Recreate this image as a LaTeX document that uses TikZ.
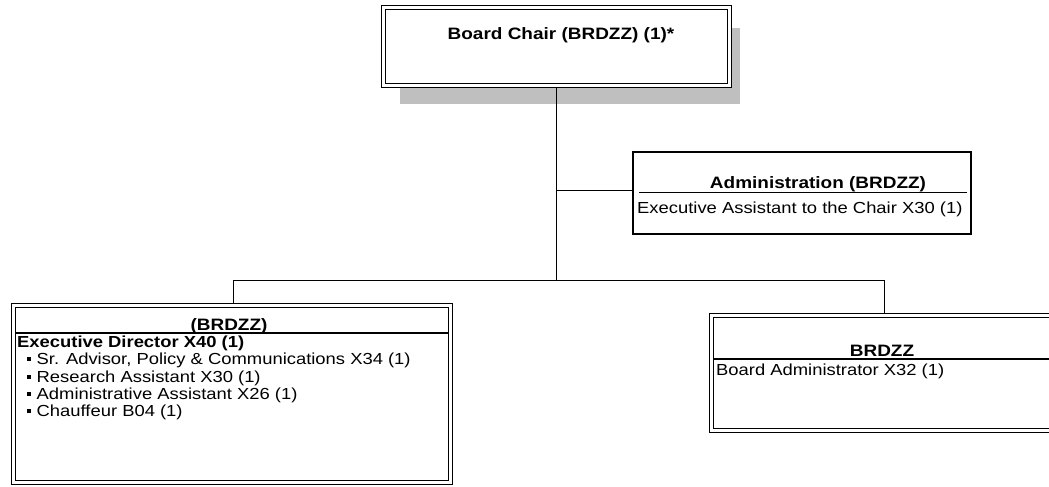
\documentclass[tikz,border=0pt]{standalone}
\usepackage{fontspec}
\setmainfont{Liberation Sans}[FakeStretch=1.15]
\newcommand\mybul{\hspace*{10pt}\rule[3.5pt]{3.5pt}{3.5pt}\hspace{6pt}}
\begin{document}
\begin{tikzpicture}[x=1pt,y=-1pt,
  dbox/.style={draw, line width=1.5pt, double, double distance=2.5pt, fill=white, inner sep=0pt, outer sep=0pt},
  sbox/.style={draw, line width=1.2pt, fill=white, inner sep=0pt, outer sep=0pt},
  conn/.style={line width=0.9pt},
  hd/.style={font=\fontsize{16.5}{18}\selectfont\bfseries, inner sep=0pt, anchor=base},
  tx/.style={font=\fontsize{16}{18}\selectfont, inner sep=0pt, anchor=base west},
  rule/.style={line width=1.1pt}]
\useasboundingbox (0,0) rectangle (1049,487);
\clip (0,0) rectangle (1049,487);
% shadow of chair box
\fill[gray!50] (400,88) rectangle (740,104);
\fill[gray!50] (732,28) rectangle (740,104);
% boxes (geometry)
\node[dbox, minimum width=346pt, minimum height=78pt] (chair) at (556.5,46.5) {};
\node[sbox, minimum width=338pt, minimum height=82pt] (admin) at (802,193) {};
\node[dbox, minimum width=437pt, minimum height=177pt] (left) at (232,394) {};
\node[dbox, minimum width=360pt, minimum height=115pt] (right) at (891.5,373) {};
% connectors
\coordinate (jl) at (233,280);
\coordinate (jr) at (884,280);
\coordinate (ja) at (556.5,190);
\draw[conn] (chair.south) -- (chair.south |- jl);
\draw[conn] (ja) -- (ja -| admin.west);
\draw[conn] (jl) -- (jr);
\draw[conn] (jl) -- (jl |- left.north);
\draw[conn] (jr) -- (jr |- right.north);
% redraw boxes on top of connectors
\node[dbox, minimum width=346pt, minimum height=78pt] at (chair) {};
\node[sbox, minimum width=338pt, minimum height=82pt] at (admin) {};
\node[dbox, minimum width=437pt, minimum height=177pt] at (left) {};
\node[dbox, minimum width=360pt, minimum height=115pt] at (right) {};
% chair text
\node[hd] (chairT) at (561,40) {Board Chair (BRDZZ) (1)*};
% admin text
\node[hd] (admT) at (818,188) {Administration (BRDZZ)};
\draw[rule] (639,192.5) -- (967,192.5);
\node[tx] (admA) at (637,213) {Executive Assistant to the Chair X30 (1)};
% left box text
\node[hd] (leftT) at (229,330) {(BRDZZ)};
\draw[rule] (16,333) -- (448,333);
\node[tx, font=\fontsize{16}{18}\selectfont\bfseries] (ed) at (17,347) {Executive Director X40 (1)};
\node[tx] (b1) at (17,364) {\mybul Sr. Advisor, Policy \& Communications X34 (1)};
\node[tx] (b2) at (17,382) {\mybul Research Assistant X30 (1)};
\node[tx] (b3) at (17,399) {\mybul Administrative Assistant X26 (1)};
\node[tx] (b4) at (17,416) {\mybul Chauffeur B04 (1)};
% right box text
\node[hd] (rightT) at (882,356) {BRDZZ};
\draw[rule] (714,359) -- (1049,359);
\node[tx] (ba) at (716,375) {Board Administrator X32 (1)};
\end{tikzpicture}
\end{document}
